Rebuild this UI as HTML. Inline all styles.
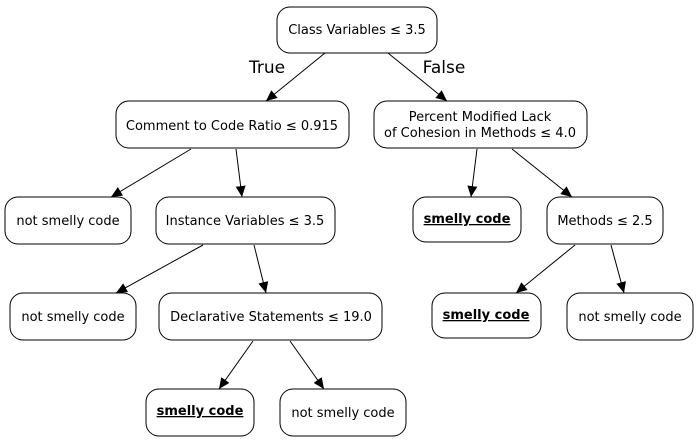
<!DOCTYPE html>
<html><head><meta charset="utf-8"><style>
html,body{margin:0;padding:0;background:#fff}
svg{display:block}
text{font-family:"DejaVu Sans","Liberation Sans",sans-serif;font-size:13px;fill:#000}
rect{fill:#fff;stroke:#000;stroke-width:1}
line{stroke:#000;stroke-width:1}
</style></head><body>
<svg width="699" height="443" viewBox="0 0 699 443">
<defs><marker id="a" markerWidth="12" markerHeight="10" refX="11" refY="5" orient="auto" markerUnits="userSpaceOnUse"><polygon points="0,0 11,5 0,10" fill="#000"/></marker></defs>
<g marker-end="url(#a)">
<line x1="325" y1="53" x2="266" y2="101"/>
<line x1="388" y1="53" x2="447" y2="101"/>
<line x1="191" y1="149" x2="111" y2="197"/>
<line x1="236" y1="149" x2="242" y2="197"/>
<line x1="477" y1="149" x2="471" y2="197"/>
<line x1="512" y1="149" x2="572" y2="197"/>
<line x1="203" y1="245" x2="116" y2="293"/>
<line x1="254" y1="245" x2="266" y2="293"/>
<line x1="575" y1="245" x2="516" y2="293"/>
<line x1="611" y1="245" x2="624" y2="293"/>
<line x1="253" y1="341" x2="219" y2="389"/>
<line x1="290" y1="341" x2="324" y2="389"/>
</g>
<text x="267" y="73" text-anchor="middle" style="font-size:17px">True</text>
<text x="444" y="73" text-anchor="middle" style="font-size:17px">False</text>
<rect x="277" y="7" width="160" height="46" rx="13"/>
<text x="357" y="34" text-anchor="middle">Class Variables ≤ 3.5</text>
<rect x="116" y="101" width="233" height="47" rx="13"/>
<text x="232" y="130" text-anchor="middle">Comment to Code Ratio ≤ 0.915</text>
<rect x="374" y="101" width="213" height="47" rx="13"/>
<text x="480" y="121" text-anchor="middle">Percent Modified Lack</text>
<text x="480" y="137" text-anchor="middle">of Cohesion in Methods ≤ 4.0</text>
<rect x="5" y="197" width="126" height="47" rx="13"/>
<text x="68" y="225" text-anchor="middle">not smelly code</text>
<rect x="156" y="197" width="179" height="47" rx="13"/>
<text x="245" y="225" text-anchor="middle">Instance Variables ≤ 3.5</text>
<rect x="413" y="197" width="108" height="45" rx="13"/>
<text x="467" y="223" text-anchor="middle" font-weight="bold" text-decoration="underline">smelly code</text>
<rect x="547" y="197" width="116" height="47" rx="13"/>
<text x="605" y="225" text-anchor="middle">Methods ≤ 2.5</text>
<rect x="10" y="293" width="126" height="47" rx="13"/>
<text x="73" y="321" text-anchor="middle">not smelly code</text>
<rect x="159" y="293" width="223" height="47" rx="13"/>
<text x="271" y="321" text-anchor="middle">Declarative Statements ≤ 19.0</text>
<rect x="432" y="293" width="109" height="45" rx="13"/>
<text x="486" y="319" text-anchor="middle" font-weight="bold" text-decoration="underline">smelly code</text>
<rect x="567" y="293" width="126" height="47" rx="13"/>
<text x="630" y="321" text-anchor="middle">not smelly code</text>
<rect x="146" y="389" width="108" height="47" rx="13"/>
<text x="200" y="415" text-anchor="middle" font-weight="bold" text-decoration="underline">smelly code</text>
<rect x="280" y="389" width="126" height="47" rx="13"/>
<text x="343" y="417" text-anchor="middle">not smelly code</text>
</svg>
</body></html>
